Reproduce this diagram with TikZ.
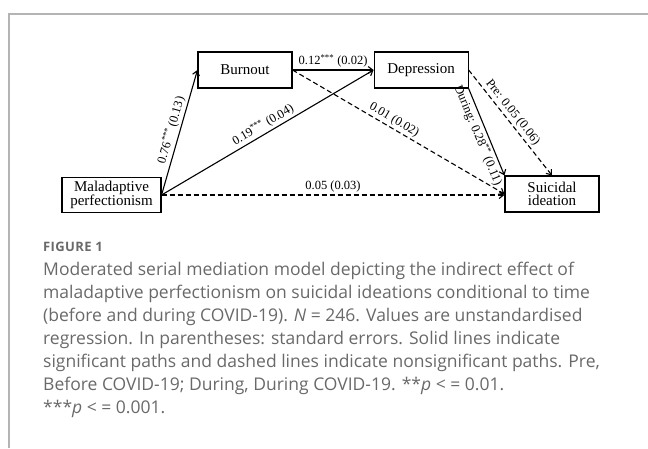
\documentclass[tikz,border=0pt]{standalone}
\usepackage{fontspec}
\setmainfont{Liberation Serif}
\newfontfamily\capfont{Open Sans}
\usepackage{xcolor}
\usetikzlibrary{positioning,arrows.meta}
\definecolor{captiongray}{RGB}{105,105,105}
\definecolor{framegray}{RGB}{180,180,180}
\tikzset{
	varbox/.style={draw=black,line width=1.1pt,minimum width=94pt,minimum height=36pt,inner sep=1pt,align=center,font=\fontsize{15}{13.5}\selectfont},
	sigpath/.style={->,line width=1.1pt},
	nspath/.style={->,line width=1.1pt,dash pattern=on 5pt off 3pt},
	coef/.style={font=\fontsize{12.5}{14}\selectfont,inner sep=2pt},
}
\begin{document}
\begin{tikzpicture}[x=1pt,y=-1pt,>={Straight Barb[length=4.5pt,width=7pt]}]
		\useasboundingbox (0,0) rectangle (648,448);
		\draw[framegray,line width=1.5pt] (9,448)--(9,14)--(648,14);
		
		\node[varbox,minimum width=99pt,minimum height=35pt] (mal) at (111.5,195) {Maladaptive\\perfectionism};
		\node[varbox] (burn) at (245,70) {Burnout};
		\node[varbox,right=81pt of burn] (dep) {Depression};
		\node[varbox] (sui) at (552,194) {Suicidal\\ideation};
		
		\draw[sigpath] (mal.east)--node[coef,sloped,above,midway] {0.76\textsuperscript{***} (0.13)} (burn.west);
		\draw[sigpath] (mal.east)--node[coef,sloped,above,midway] {0.19\textsuperscript{***} (0.04)} (dep.west);
		\draw[sigpath] (burn.east)--node[coef,above,midway] {0.12\textsuperscript{***} (0.02)} (burn.east -| dep.west);
		\draw[nspath] (burn.east)--node[coef,sloped,above,pos=0.46] {0.01 (0.02)} (sui.west);
		\draw[nspath] (mal.east)--node[coef,above,midway] {0.05 (0.03)} (mal.east -| sui.west);
		\draw[sigpath] (dep.south east)--node[coef,sloped,below,midway] {During: 0.28\textsuperscript{**} (0.11)} (sui.north west);
		\draw[nspath] (dep.east)--node[coef,sloped,above,pos=0.45] {Pre: 0.05 (0.06)} (sui.north);
		
		\node[anchor=base west,inner sep=0,text=captiongray,font=\capfont\bfseries\fontsize{13}{14}\selectfont\addfontfeature{LetterSpace=3}] (figlabel) at (43,251) {FIGURE 1};
		\node[anchor=base west,inner sep=0,align=left,text=captiongray,font=\capfont\fontsize{17.5}{23}\selectfont] (caption) at (43,413) {Moderated serial mediation model depicting the indirect effect of\\maladaptive perfectionism on suicidal ideations conditional to time\\(before and during COVID-19). \textit{N} = 246. Values are unstandardised\\regression. In parentheses: standard errors. Solid lines indicate\\significant paths and dashed lines indicate nonsignificant paths. Pre,\\Before COVID-19; During, During COVID-19. **\textit{p} < = 0.01.\\***\textit{p} < = 0.001.};
	\end{tikzpicture}
\end{document}
